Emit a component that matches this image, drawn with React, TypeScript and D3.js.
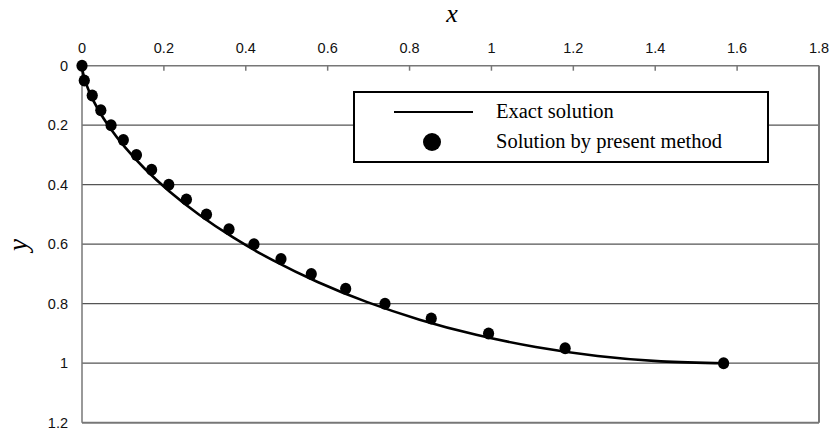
import React from "react";
import * as d3 from "d3";

// exact solution (cycloid) sample points
const exactX = [0, 0.00032, 0.00257, 0.00862, 0.02026, 0.03915, 0.06673, 0.10428, 0.15279, 0.21302, 0.2854,
  0.3701, 0.46695, 0.57552, 0.69505, 0.82454, 0.96274, 1.10818, 1.25921, 1.41404, 1.5708];
const exactY = [0, 0.00616, 0.02447, 0.0545, 0.09549, 0.14645, 0.20611, 0.273, 0.34549, 0.42178, 0.5,
  0.57822, 0.65451, 0.727, 0.79389, 0.85355, 0.90451, 0.9455, 0.97553, 0.99384, 1];

// solution by present method
const methodX = [0, 0.0056, 0.025, 0.046, 0.071, 0.101, 0.133, 0.17, 0.212, 0.255, 0.304,
  0.359, 0.42, 0.486, 0.56, 0.644, 0.74, 0.853, 0.993, 1.18, 1.567];
const methodY = [0, 0.05, 0.1, 0.15, 0.2, 0.25, 0.3, 0.35, 0.4, 0.45, 0.5,
  0.55, 0.6, 0.65, 0.7, 0.75, 0.8, 0.85, 0.9, 0.95, 1];

const xTicks = [0, 0.2, 0.4, 0.6, 0.8, 1, 1.2, 1.4, 1.6, 1.8];
const yTicks = [0, 0.2, 0.4, 0.6, 0.8, 1, 1.2];

const legendLabels = ["Exact solution", "Solution by present method"];

const App = () => {
  const x = d3.scaleLinear().domain([0, 1.8]).range([82, 819]);
  const y = d3.scaleLinear().domain([0, 1.2]).range([65.7, 422.7]);

  const line = d3
    .line<number>()
    .x((d, i) => x(exactX[i]))
    .y((d, i) => y(exactY[i]))
    .curve(d3.curveCatmullRom);

  const tickFont = "'Liberation Sans', Arial, sans-serif";
  const serif = "'Liberation Serif', 'Times New Roman', serif";

  return (
    <svg
      width={830}
      height={431}
      style={{ position: "fixed", left: 0, top: 0, background: "#fff" }}
    >
      <rect x={0} y={0} width={830} height={431} fill="#fff" />

      {/* gridlines */}
      {yTicks.slice(1, -1).map((t) => (
        <line key={t} x1={x(0)} x2={x(1.8)} y1={y(t)} y2={y(t)} stroke="#555" strokeWidth={1.3} />
      ))}

      {/* plot frame */}
      <line x1={x(0)} x2={x(1.8)} y1={y(1.2)} y2={y(1.2)} stroke="#777" strokeWidth={2} />
      <line x1={x(1.8)} x2={x(1.8)} y1={y(0)} y2={y(1.2)} stroke="#777" strokeWidth={2} />
      <line x1={x(0)} x2={x(0)} y1={y(0)} y2={y(1.2)} stroke="#777" strokeWidth={1.5} />
      <line x1={x(0)} x2={x(1.8)} y1={y(0)} y2={y(0)} stroke="#777" strokeWidth={1.5} />

      {/* top axis ticks + labels */}
      {xTicks.map((t) => (
        <g key={t}>
          <line x1={x(t)} x2={x(t)} y1={y(0)} y2={y(0) + 5} stroke="#777" strokeWidth={1.5} />
          <text x={x(t)} y={53} textAnchor="middle" fontFamily={tickFont} fontSize={14.5} fill="#111">
            {t}
          </text>
        </g>
      ))}

      {/* left axis labels */}
      {yTicks.map((t) => (
        <text
          key={t}
          x={68}
          y={y(t)}
          dy="0.36em"
          textAnchor="end"
          fontFamily={tickFont}
          fontSize={14.5}
          fill="#111"
        >
          {t}
        </text>
      ))}

      {/* axis titles */}
      <text x={452} y={22} textAnchor="middle" fontFamily={serif} fontStyle="italic" fontSize={26}>
        x
      </text>
      <text
        transform="translate(27,245) rotate(-90)"
        textAnchor="middle"
        fontFamily={serif}
        fontStyle="italic"
        fontSize={27}
      >
        y
      </text>

      {/* exact solution */}
      <path d={line(exactX) || ""} fill="none" stroke="#000" strokeWidth={2.6} />

      {/* present method */}
      {methodX.map((v, i) => (
        <ellipse key={i} cx={x(v)} cy={y(methodY[i])} rx={5.6} ry={6} fill="#000" />
      ))}

      {/* legend */}
      <rect x={354} y={92} width={414} height={70} fill="#fff" stroke="#000" strokeWidth={2} />
      <line x1={394} x2={473} y1={112} y2={112} stroke="#000" strokeWidth={2} />
      <circle cx={432} cy={142} r={9} fill="#000" />
      <text x={496} y={118} fontFamily={serif} fontSize={20.5}>
        {legendLabels[0]}
      </text>
      <text x={496} y={148} fontFamily={serif} fontSize={20.5}>
        {legendLabels[1]}
      </text>
    </svg>
  );
};

export default App;
